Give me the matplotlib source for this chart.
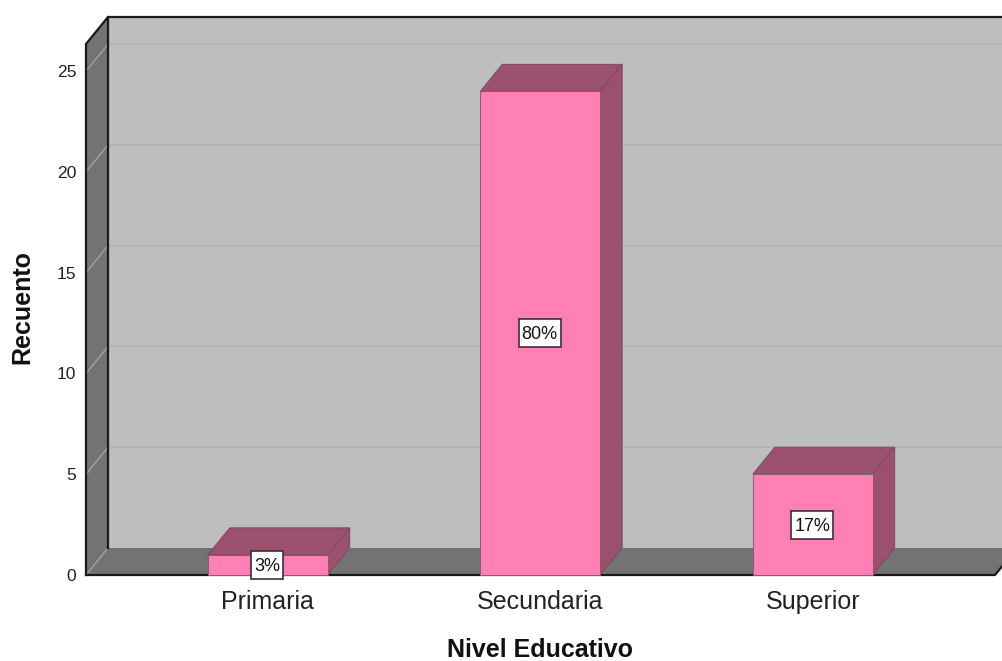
import matplotlib
matplotlib.use('Agg')
import matplotlib.pyplot as plt
from matplotlib.patches import Polygon, Rectangle
from matplotlib.transforms import IdentityTransform

categories = ['Primaria', 'Secundaria', 'Superior']
counts = [1, 24, 5]
percent_labels = ['3%', '80%', '17%']
y_ticks = [0, 5, 10, 15, 20, 25]

plt.rcParams['font.family'] = 'Liberation Sans'

W, H = 1003, 661
fig = plt.figure(figsize=(W / 100, H / 100), dpi=100, facecolor='white')
# the axes is the front plane of the 3d box
ax = fig.add_axes([86 / W, (H - 575) / H, 909 / W, 531 / H])
ax.patch.set_visible(False)
for s in ax.spines.values():
    s.set_visible(False)

xmin, xmax = -0.667, 2.669
ymin, ymax = 0, 26.35
ax.set_xlim(xmin, xmax)
ax.set_ylim(ymin, ymax)

# depth of the box, in data units
dx = 22 * (xmax - xmin) / 909
dy = 27 * (ymax - ymin) / 531

WALL = '#bebebe'
SIDE = '#737373'
PINK = '#ff80b4'
DARK_PINK = '#9b506f'


def poly(pts, color, edge='none', lw=0.8, z=1):
    ax.add_patch(Polygon(pts, closed=True, facecolor=color, edgecolor=edge,
                         linewidth=lw, clip_on=False, zorder=z))


def line(xs, ys, color, lw, z=2):
    ax.plot(xs, ys, color=color, lw=lw, clip_on=False, zorder=z,
            solid_capstyle='projecting')


# walls and floor
poly([(xmin + dx, ymin + dy), (xmax + dx, ymin + dy), (xmax + dx, ymax + dy), (xmin + dx, ymax + dy)], WALL)
poly([(xmin, ymin), (xmin + dx, ymin + dy), (xmin + dx, ymax + dy), (xmin, ymax)], SIDE)
poly([(xmin, ymin), (xmax, ymin), (xmax + dx, ymin + dy), (xmin + dx, ymin + dy)], SIDE)

# grid lines on the back and left walls
for t in y_ticks[1:]:
    line([xmin + dx, xmax + dx], [t + dy, t + dy], '#b2b2b2', 1.2)
    line([xmin, xmin + dx], [t, t + dy], '#a3a3a3', 1.0)
line([xmin, xmin + dx], [ymin, ymin + dy], '#a3a3a3', 1.0)

# box outline
line([xmin, xmin, xmin + dx, xmax + dx], [ymin, ymax, ymax + dy, ymax + dy], '#1a1a1a', 1.6, 3)
line([xmin + dx, xmin + dx], [ymin + dy, ymax + dy], '#1a1a1a', 1.6, 3)
line([xmin, xmax, xmax + dx], [ymin, ymin, ymin + dy], '#1a1a1a', 1.6, 3)

# bars, each with its top and side faces
bar_w = 0.44
renderer = fig.canvas.get_renderer()
for i, v in enumerate(counts):
    l, r = i - bar_w / 2, i + bar_w / 2
    poly([(l, v), (r, v), (r + dx, v + dy), (l + dx, v + dy)], DARK_PINK, '#7d4a60', 0.7, 4)
    poly([(r, 0), (r + dx, dy), (r + dx, v + dy), (r, v)], DARK_PINK, '#7d4a60', 0.7, 4)
    ax.bar(i, v, width=bar_w, color=PINK, edgecolor='#8a5a70', linewidth=0.7, zorder=5, clip_on=False)
    t = ax.text(i - 0.002, v / 2 - 0.08, percent_labels[i], ha='center', va='center', fontsize=13,
                color='#111111', zorder=7)
    # white label box, sized in pixels around the text
    bb = t.get_window_extent(renderer)
    cy = (bb.y0 + bb.y1) / 2 + 1.6
    ax.add_patch(Rectangle((bb.x0 - 3, cy - 14), bb.width + 6, 28, transform=IdentityTransform(),
                           facecolor='white', edgecolor='#333333', linewidth=1.2,
                           zorder=6, clip_on=False))

ax.set_xticks(range(len(categories)))
ax.set_xticklabels(categories, fontsize=18, color='#222222')
ax.set_yticks(y_ticks)
ax.tick_params(axis='x', length=0, pad=11)
ax.tick_params(axis='y', length=0, pad=7, labelsize=12.6, labelcolor='#222222')

fig.text(22 / W, 1 - 307 / H, 'Recuento', rotation=90, ha='center', va='center',
         fontsize=18, fontweight='bold', color='#111111')
fig.text(540 / W, 1 - 650 / H, 'Nivel Educativo', ha='center', va='center',
         fontsize=18, fontweight='bold', color='#111111')

fig.savefig('out.png', dpi=100, facecolor='white')
